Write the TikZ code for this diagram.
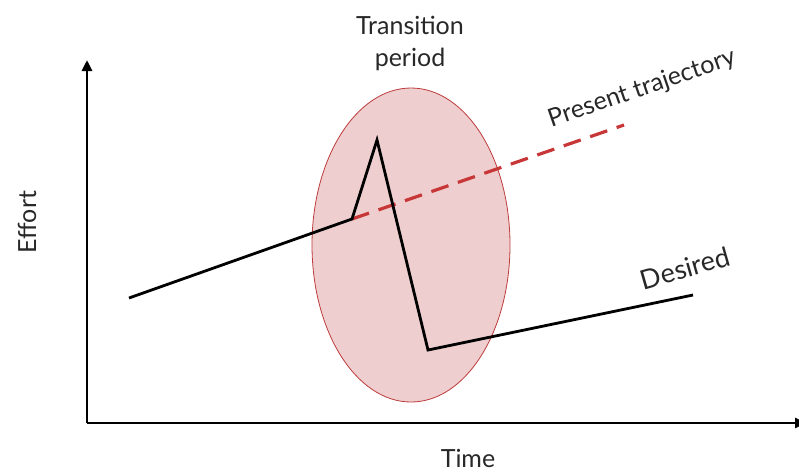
\documentclass[tikz,border=0pt]{standalone}
\usepackage{fontspec}
\setmainfont{Lato}
\usetikzlibrary{arrows.meta}
\definecolor{ellfill}{RGB}{238,206,206}
\definecolor{elldraw}{RGB}{190,60,60}
\definecolor{dashred}{RGB}{200,55,55}
\definecolor{txt}{RGB}{40,40,40}
\tikzset{
  axis/.style={line width=2.8pt, -{Triangle[length=11pt,width=10pt]}},
  curve/.style={line width=2.8pt, line join=miter},
  present/.style={line width=3.2pt, dashred, dash pattern=on 18pt off 10pt},
  lbl/.style={text=txt, inner sep=0pt, font=\fontsize{25}{32}\selectfont}
}
\begin{document}
\begin{tikzpicture}[x=1pt,y=-1pt]
\useasboundingbox (0,0) rectangle (799,472);
% ellipse
\coordinate (ellc) at (411,245);
\fill[ellfill, draw=elldraw, line width=0.8pt] (ellc) ellipse [x radius=99, y radius=157];
% axes
\coordinate (origin) at (87,423);
\coordinate (ytip) at (87,60);
\coordinate (xtip) at (806,423);
\draw[axis] (origin) -- (ytip);
\draw[axis] (origin) -- (xtip);
% present trajectory
\coordinate (kink) at (352,219);
\coordinate (pend) at (624,125);
\draw[present] (kink) -- (pend);
% desired curve
\coordinate (start) at (129,298);
\coordinate (peak) at (377,140);
\coordinate (low) at (428,350);
\coordinate (dend) at (693,295);
\draw[curve] (start) -- (kink) -- (peak) -- (low) -- (dend);
% labels
\node[lbl, align=center] (trans) at (410,43) {Transition\\period};
\node[lbl, rotate=19] (plab) at (642,89) {Present trajectory};
\node[lbl, rotate=16, font=\fontsize{27}{32}\selectfont] (dlab) at (685,268) {Desired};
\node[lbl, rotate=90] (ylab) at (27,222) {Effort};
\node[lbl] (xlab) at (468,458) {Time};
\end{tikzpicture}
\end{document}
